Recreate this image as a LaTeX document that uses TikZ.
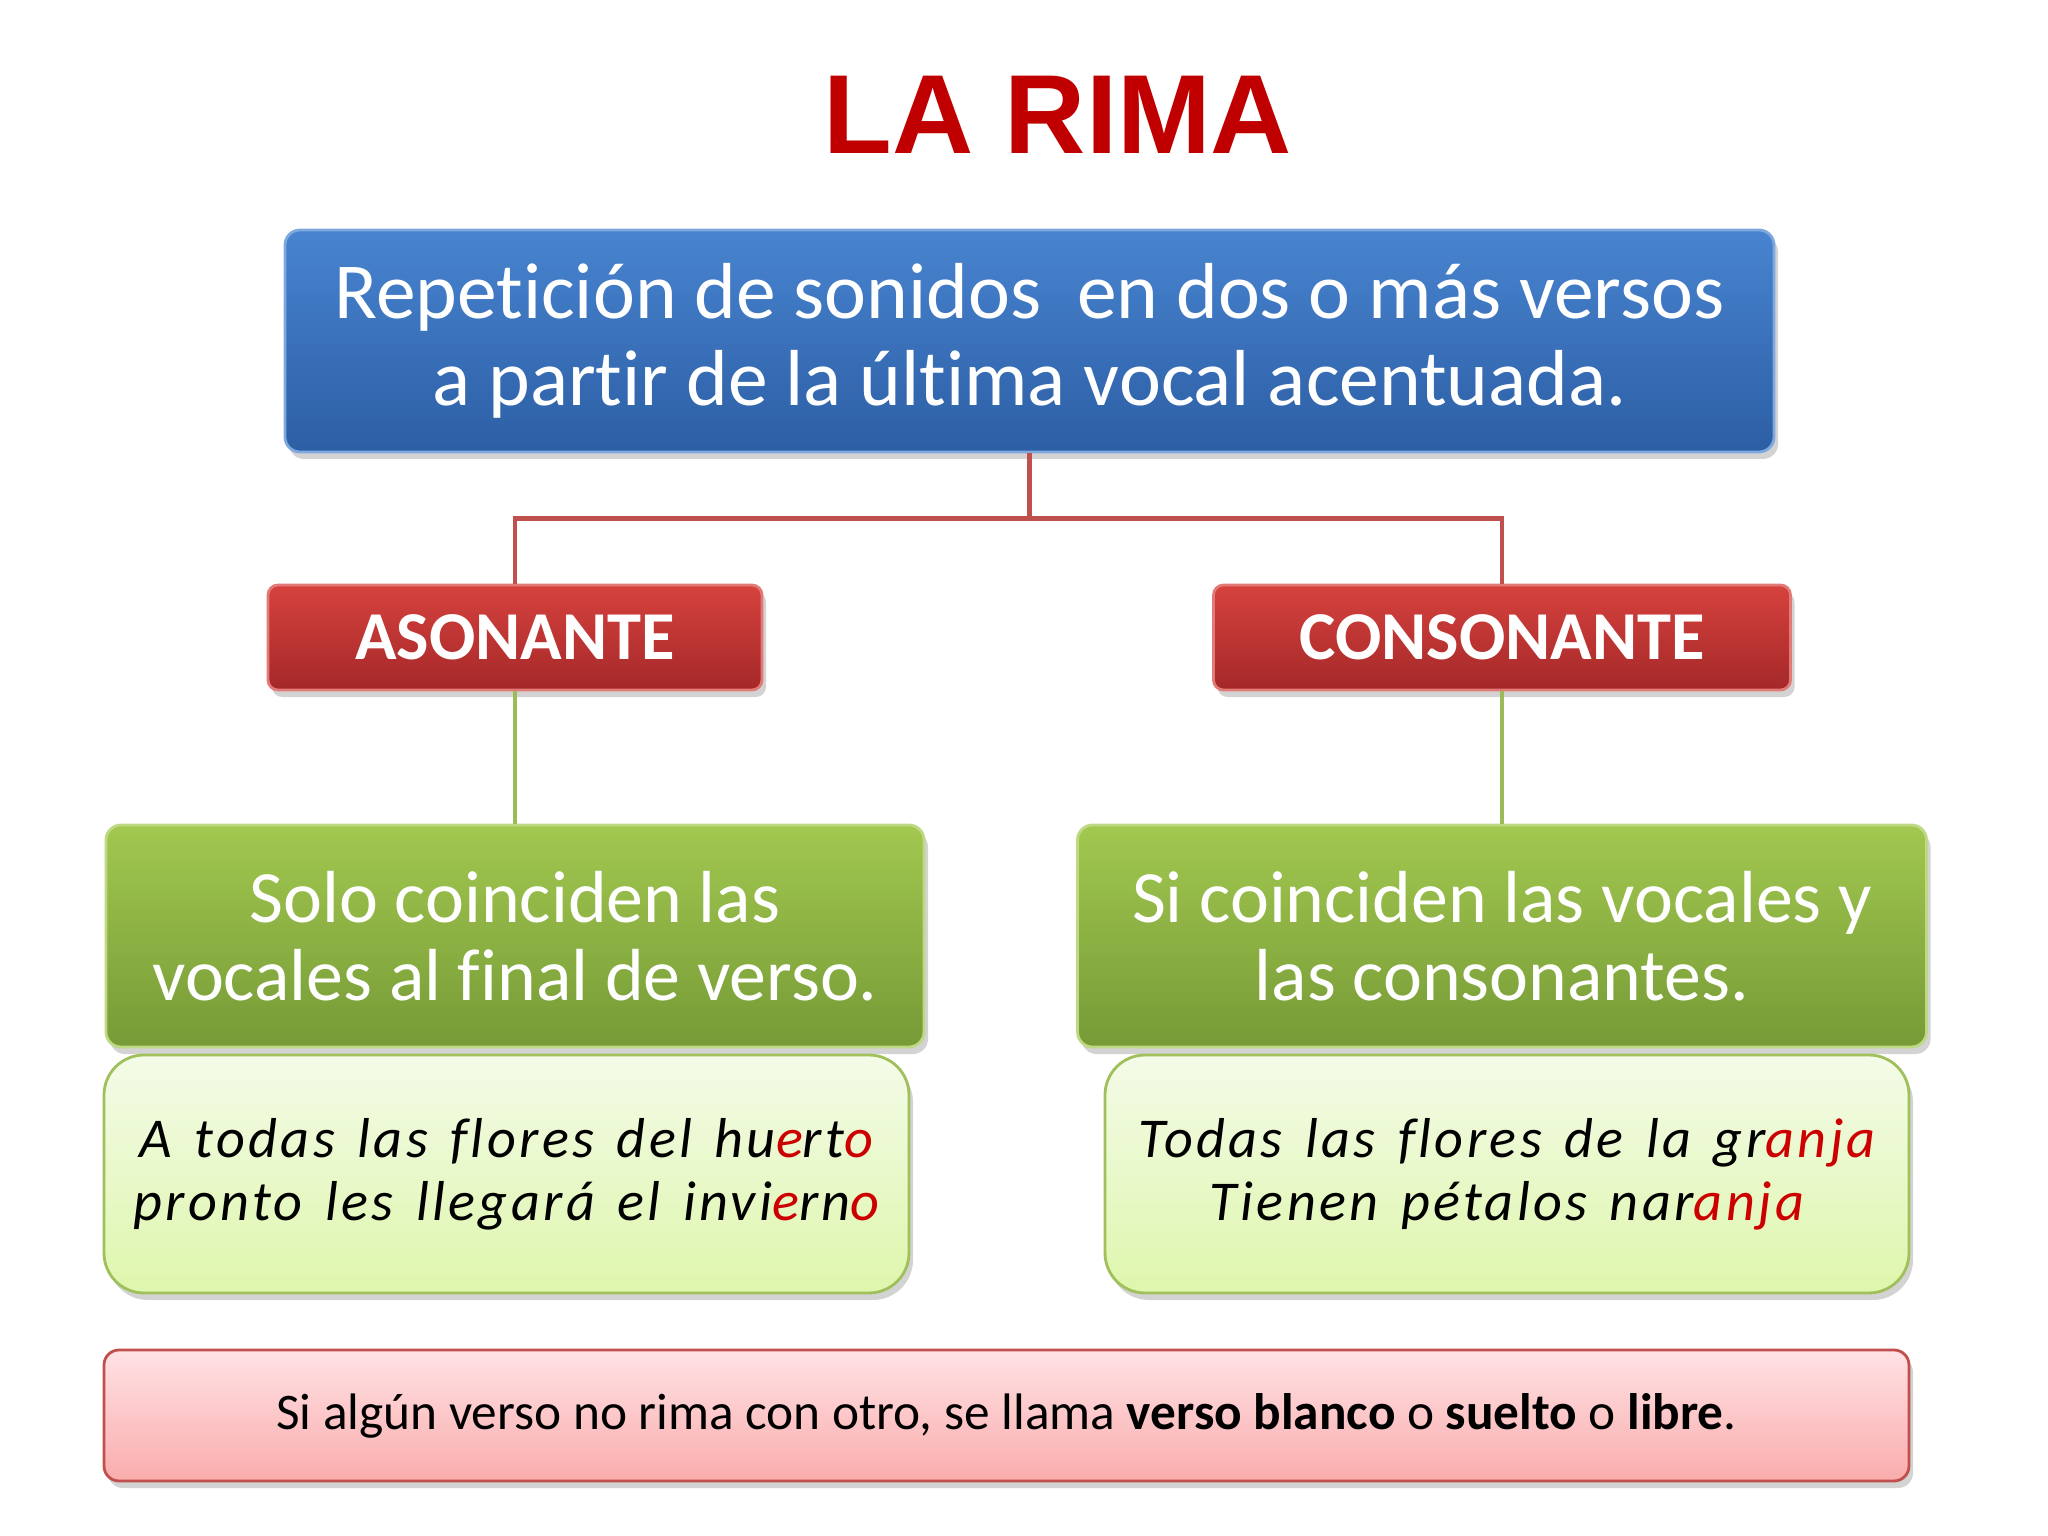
\documentclass[tikz,border=0pt]{standalone}
\usepackage{fontspec}
\setmainfont{Carlito}[Ligatures=NoCommon]
\newfontfamily\titlefont{Liberation Sans}
\newfontfamily\poemfont[LetterSpace=6.0,Ligatures=NoCommon,WordSpace=1.4]{Carlito}
\usetikzlibrary{positioning,shadows}

\definecolor{titlered}{RGB}{192,0,0}
\definecolor{bluetop}{RGB}{72,132,208}
\definecolor{bluebot}{RGB}{44,94,164}
\definecolor{redtop}{RGB}{214,66,62}
\definecolor{redbot}{RGB}{164,40,40}
\definecolor{greentop}{RGB}{162,200,80}
\definecolor{greenbot}{RGB}{118,154,54}
\definecolor{lighttop}{RGB}{244,251,232}
\definecolor{lightbot}{RGB}{222,246,172}
\definecolor{lightborder}{RGB}{160,192,92}
\definecolor{pinktop}{RGB}{255,226,229}
\definecolor{pinkbot}{RGB}{250,172,172}
\definecolor{pinkborder}{RGB}{192,80,77}
\definecolor{linered}{RGB}{192,80,77}
\definecolor{linegreen}{RGB}{155,187,89}
\definecolor{rimared}{RGB}{204,0,0}

\newcommand{\rim}[1]{\textcolor{rimared}{#1}}

\begin{document}
\begin{tikzpicture}[
    boxshadow/.style={drop shadow={opacity=0.35, shadow xshift=0.04cm, shadow yshift=-0.07cm}},
    bluebox/.style={rectangle, rounded corners=0.15cm, top color=bluetop, bottom color=bluebot,
        draw=bluetop!70!white, line width=0.8pt, boxshadow, inner sep=0pt, align=center,
        text=white, font=\fontsize{22.6}{24.7}\selectfont},
    redbox/.style={rectangle, rounded corners=0.1cm, top color=redtop, bottom color=redbot,
        draw=redtop!70!white, line width=0.8pt, boxshadow, inner sep=0pt, align=center,
        text=white, font=\fontsize{19.5}{24}\selectfont\bfseries},
    greenbox/.style={rectangle, rounded corners=0.15cm, top color=greentop, bottom color=greenbot,
        draw=greentop!70!white, line width=0.8pt, boxshadow, inner sep=0pt, align=center,
        text=white, font=\fontsize{21}{22.3}\selectfont},
    poembox/.style={rectangle, rounded corners=0.4cm, top color=lighttop, bottom color=lightbot,
        draw=lightborder, line width=0.8pt, boxshadow, inner sep=0pt, align=center,
        font=\poemfont\itshape\fontsize{16}{18}\selectfont},
    notebox/.style={rectangle, rounded corners=0.15cm, top color=pinktop, bottom color=pinkbot,
        draw=pinkborder, line width=0.8pt, boxshadow, inner sep=0pt, align=center,
        font=\fontsize{14.6}{18}\selectfont},
    redline/.style={draw=linered, line width=1.2pt},
    greenline/.style={draw=linegreen, line width=1.2pt}]
    \useasboundingbox (0,0) rectangle (20.48,-15.36);

    \node[text=titlered, font=\titlefont\bfseries\fontsize{32}{36}\selectfont] (title) at (10.58,-1.15) {LA RIMA};

    \node[bluebox, minimum width=14.89cm, minimum height=2.22cm] (rima) at (10.295,-3.41)
        {Repetición de sonidos\ \ en dos o más versos\\a partir de la última vocal acentuada.};

    \node[redbox, minimum width=4.94cm, minimum height=1.05cm] (asonante) at (5.15,-6.375) {ASONANTE};
    \node[redbox, minimum width=5.77cm, minimum height=1.05cm] (consonante) at (15.02,-6.375) {CONSONANTE};

    \node[greenbox, minimum width=8.18cm, minimum height=2.22cm] (solo) at (5.15,-9.36)
        {Solo coinciden las\\vocales al final de verso.};
    \node[greenbox, minimum width=8.49cm, minimum height=2.22cm] (si) at (15.02,-9.36)
        {Si coinciden las vocales y\\las consonantes.};

    \node[poembox, minimum width=8.05cm, minimum height=2.38cm] (huerto) at (5.065,-11.74)
        {A todas las flores del hu\rim{e}rt\rim{o}\\pronto les llegará el invi\rim{e}rn\rim{o}};
    \node[poembox, minimum width=8.04cm, minimum height=2.38cm] (granja) at (15.07,-11.74)
        {Todas las flores de la gr\rim{anja}\\Tienen pétalos nar\rim{anja}};

    \node[notebox, minimum width=18.05cm, minimum height=1.31cm] (blanco) at (10.065,-14.155)
        {Si algún verso no rima con otro, se llama \textbf{verso blanco} o \textbf{suelto} o \textbf{libre}.};

    \draw[redline] (rima.south) -- ++(0,-0.65) -| (asonante.north);
    \draw[redline] (rima.south) -- ++(0,-0.65) -| (consonante.north);
    \draw[greenline] (asonante.south) -- (solo.north);
    \draw[greenline] (consonante.south) -- (si.north);
\end{tikzpicture}
\end{document}
